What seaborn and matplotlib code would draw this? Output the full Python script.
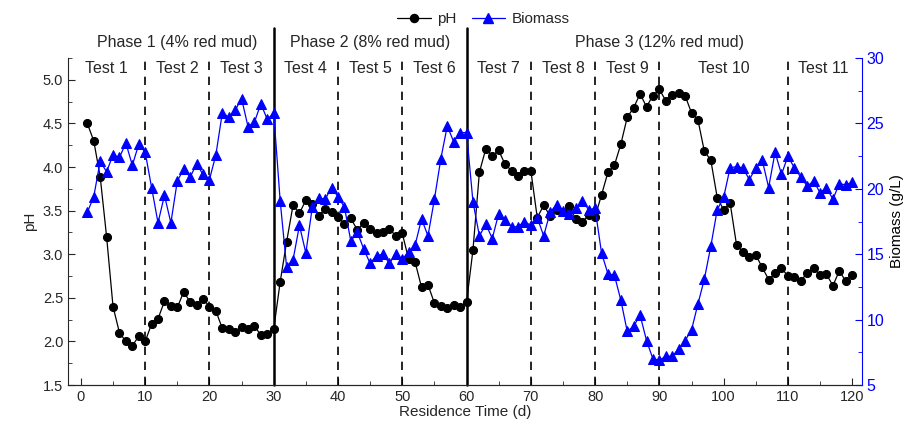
import numpy as np
import pandas as pd
import matplotlib.pyplot as plt
import seaborn as sns
from matplotlib.ticker import MultipleLocator, FormatStrFormatter
from matplotlib.lines import Line2D


days = list(range(1, 121))

ph = [4.50, 4.30, 3.89, 3.20, 2.40, 2.10, 2.00, 1.95, 2.06, 2.00,
      2.20, 2.26, 2.46, 2.41, 2.39, 2.57, 2.45, 2.42, 2.49, 2.40,
      2.35, 2.15, 2.14, 2.11, 2.16, 2.14, 2.18, 2.07, 2.09, 2.14,
      2.68, 3.14, 3.56, 3.47, 3.62, 3.58, 3.44, 3.52, 3.49, 3.43,
      3.35, 3.41, 3.28, 3.36, 3.29, 3.24, 3.26, 3.29, 3.21, 3.24,
      2.94, 2.91, 2.62, 2.65, 2.44, 2.41, 2.38, 2.42, 2.39, 2.45,
      3.05, 3.94, 4.21, 4.13, 4.19, 4.03, 3.96, 3.90, 3.95, 3.96,
      3.42, 3.56, 3.44, 3.51, 3.49, 3.55, 3.40, 3.37, 3.45, 3.43,
      3.68, 3.94, 4.02, 4.26, 4.57, 4.68, 4.84, 4.69, 4.82, 4.89,
      4.76, 4.83, 4.85, 4.82, 4.62, 4.54, 4.18, 4.08, 3.65, 3.51,
      3.59, 3.11, 3.03, 2.97, 2.99, 2.85, 2.71, 2.78, 2.84, 2.75,
      2.74, 2.69, 2.79, 2.84, 2.76, 2.77, 2.64, 2.81, 2.69, 2.76]

biomass = [18.2, 19.4, 22.1, 21.3, 22.6, 22.4, 23.5, 21.8, 23.4, 22.8,
           20.1, 17.4, 19.5, 17.4, 20.6, 21.5, 20.9, 21.9, 21.1, 20.7,
           22.6, 25.8, 25.5, 26.0, 26.9, 24.75, 25.1, 26.5, 25.3, 25.8,
           19.1, 14.05, 14.55, 17.2, 15.1, 18.6, 19.3, 19.2, 20.1, 19.4,
           18.6, 16.0, 16.7, 15.4, 14.3, 14.9, 15.0, 14.3, 15.05, 14.6,
           15.2, 15.7, 17.7, 16.4, 19.2, 22.3, 24.8, 23.6, 24.3, 24.3,
           19.0, 16.4, 17.3, 16.2, 18.1, 17.6, 17.1, 17.1, 17.5, 17.2,
           17.8, 16.4, 18.2, 18.8, 18.3, 18.1, 18.5, 19.1, 18.4, 18.5,
           15.1, 13.5, 13.4, 11.5, 9.1, 9.5, 10.35, 8.4, 7.0, 6.9,
           7.2, 7.2, 7.75, 8.4, 9.2, 11.2, 13.1, 15.6, 18.4, 19.35,
           21.6, 21.7, 21.6, 20.7, 21.6, 22.2, 20.1, 22.8, 21.1, 22.5,
           21.6, 20.9, 20.2, 20.6, 19.7, 20.1, 19.2, 20.4, 20.3, 20.5]

phase_bounds = [30, 60]
test_bounds = [10, 20, 40, 50, 70, 80, 90, 110]
phase_labels = ['Phase 1 (4% red mud)', 'Phase 2 (8% red mud)', 'Phase 3 (12% red mud)']
phase_pos = [15, 45, 90]
test_labels = ['Test %d' % i for i in range(1, 12)]
test_pos = [4, 15, 25, 35, 45, 55, 65, 75, 85, 100, 115.5]

df = pd.DataFrame({'day': days, 'pH': ph, 'Biomass': biomass})

sns.set_style('ticks')
plt.rcParams['font.family'] = ['Liberation Sans', 'DejaVu Sans']
plt.rcParams['font.size'] = 11

fig, ax = plt.subplots(figsize=(9.12, 4.25), dpi=100)
fig.subplots_adjust(left=0.0746, right=0.945, bottom=0.094, top=0.8635)
ax2 = ax.twinx()

blue = '#0000FF'

sns.lineplot(data=df, x='day', y='pH', ax=ax, color='black', marker='o',
             markersize=5.8, markeredgecolor='black', linewidth=0.9, legend=False)
sns.lineplot(data=df, x='day', y='Biomass', ax=ax2, color=blue, marker='^',
             markersize=6.8, markeredgecolor=blue, linewidth=0.9, legend=False)

ax.set_xlim(-2, 121.5)
ax.set_ylim(1.5, 5.25)
ax2.set_ylim(5, 30)

# phase boundaries reach above the axes, test boundaries stop at the top
for b in phase_bounds:
    ax.axvline(b, ymin=0, ymax=1.092, color='black', lw=1.8, clip_on=False, zorder=5)
for b in test_bounds:
    ax.axvline(b, color='black', lw=1.2, ls=(0, (5, 4)), zorder=5)

for lab, p in zip(phase_labels, phase_pos):
    ax.text(p, 1.046, lab, transform=ax.get_xaxis_transform(), ha='center', va='center', fontsize=11.5)
for lab, p in zip(test_labels, test_pos):
    ax.text(p, 0.969, lab, transform=ax.get_xaxis_transform(), ha='center', va='center', fontsize=11.5)

ax.xaxis.set_major_locator(MultipleLocator(10))
ax.xaxis.set_minor_locator(MultipleLocator(5))
ax.yaxis.set_major_locator(MultipleLocator(0.5))
ax.yaxis.set_minor_locator(MultipleLocator(0.25))
ax.yaxis.set_major_formatter(FormatStrFormatter('%.1f'))
ax2.yaxis.set_major_locator(MultipleLocator(5))
ax2.yaxis.set_minor_locator(MultipleLocator(2.5))

ax.tick_params(which='both', direction='in', labelsize=10.5)
ax.tick_params(which='major', length=5)
ax.tick_params(which='minor', length=3)
ax2.tick_params(which='both', direction='in', colors=blue, labelsize=11.5)
ax2.tick_params(which='major', length=5)
ax2.tick_params(which='minor', length=3)

for a in (ax, ax2):
    a.spines['top'].set_visible(False)
ax2.spines['left'].set_visible(False)
ax2.spines['right'].set_color(blue)
ax.spines['right'].set_visible(False)

ax.set_xlabel('Residence Time (d)', fontsize=11, labelpad=1)
ax.set_ylabel('pH', fontsize=11)
ax2.set_ylabel('Biomass (g/L)', fontsize=11, color='black')

handles = [Line2D([], [], color='black', marker='o', markersize=5.8, lw=0.9),
           Line2D([], [], color=blue, marker='^', markersize=6.8, lw=0.9)]
fig.legend(handles, ['pH', 'Biomass'], loc='center', bbox_to_anchor=(0.53, 0.955),
           ncol=2, frameon=False, fontsize=11, handlelength=2.2, columnspacing=1.0,
           handletextpad=0.4)

fig.savefig('out.png', dpi=100)
